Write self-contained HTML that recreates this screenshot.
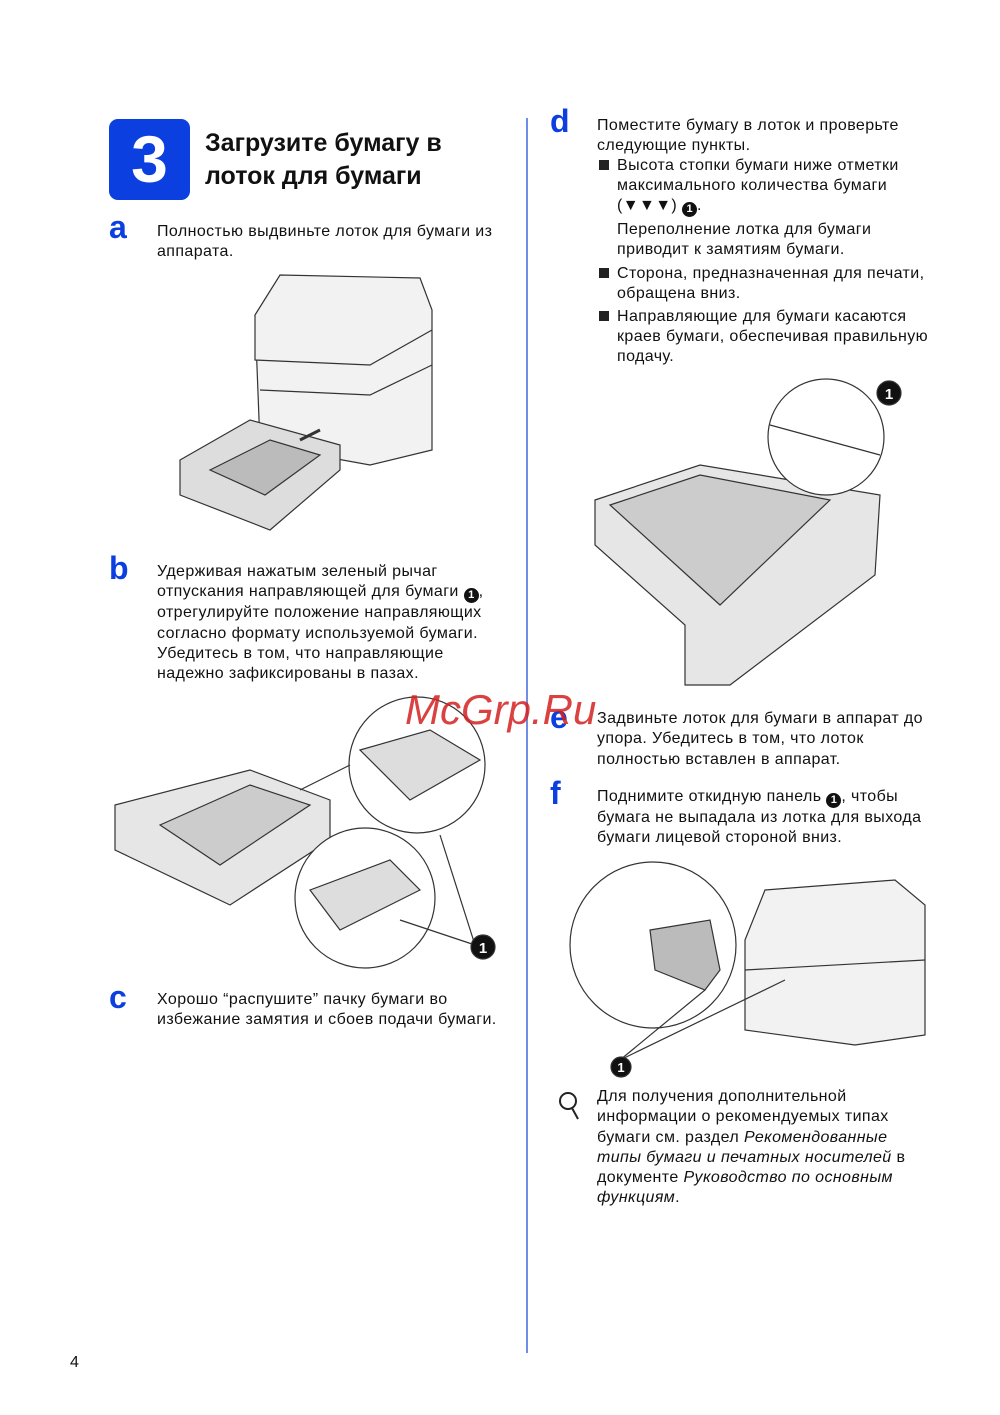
<!DOCTYPE html>
<html><head><meta charset="utf-8"><style>
body{margin:0;width:1000px;height:1415px;background:#fff;position:relative;overflow:hidden;font-family:"Liberation Sans",sans-serif;color:#111}
.t{position:absolute;font-size:16px;letter-spacing:.4px;line-height:20.3px;white-space:nowrap}
.L{position:absolute;color:#0b3fe0;font-weight:bold;font-size:32px;line-height:30px}
.n{display:inline-block;width:15px;height:15px;border-radius:50%;background:#111;color:#fff;font-size:11px;line-height:15px;text-align:center;font-weight:bold;vertical-align:-2px;letter-spacing:0}
svg{position:absolute}
.sq{display:inline-block;width:10px;height:10px;background:#222;margin-right:8px}
</style></head><body>
<div style="position:absolute;left:109px;top:119px;width:81px;height:81px;background:#0b3fe0;border-radius:9px;color:#fff;font-weight:bold;font-size:66px;line-height:81px;text-align:center">3</div>
<div style="position:absolute;left:205px;top:127px;font-weight:bold;font-size:25px;line-height:33px">Загрузите бумагу в<br>лоток для бумаги</div>
<div style="position:absolute;left:526px;top:118px;width:2px;height:1235px;background:#6f8fe6"></div>

<div class="L" style="left:109px;top:212px">a</div>
<div class="t" style="left:157px;top:222px">Полностью выдвиньте лоток для бумаги из<br>аппарата.</div>
<svg style="left:170px;top:270px" width="270" height="275" viewBox="0 0 270 275" fill="#f2f2f2" stroke="#333" stroke-width="1.2">
<path d="M85 45 L110 5 L250 8 L262 40 L262 180 L200 195 L90 175 Z"/>
<path d="M85 45 L85 90 L200 95 L262 60"/>
<path d="M90 120 L200 125 L262 95"/>
<path d="M10 190 L80 150 L170 175 L170 200 L100 260 L10 225 Z" fill="#ddd"/>
<path d="M40 200 L100 170 L150 185 L95 225 Z" fill="#bbb"/>
<path d="M130 170 L150 160" stroke-width="3"/>
</svg>

<div class="L" style="left:109px;top:553px">b</div>
<div class="t" style="left:157px;top:562px">Удерживая нажатым зеленый рычаг<br>отпускания направляющей для бумаги <span class="n">1</span>,<br>отрегулируйте положение направляющих<br>согласно формату используемой бумаги.<br>Убедитесь в том, что направляющие<br>надежно зафиксированы в пазах.</div>
<svg style="left:110px;top:690px" width="395" height="285" viewBox="0 0 395 285" fill="#f2f2f2" stroke="#333" stroke-width="1.2">
<path d="M5 115 L140 80 L220 110 L220 150 L120 215 L5 160 Z" fill="#e6e6e6"/>
<path d="M50 135 L140 95 L200 115 L110 175 Z" fill="#ccc"/>
<circle cx="307" cy="75" r="68" fill="#fff"/>
<path d="M250 60 L320 40 L370 70 L300 110 Z" fill="#ddd"/>
<circle cx="255" cy="208" r="70" fill="#fff"/>
<path d="M200 200 L280 170 L310 200 L230 240 Z" fill="#ddd"/>
<line x1="190" y1="100" x2="240" y2="75"/><line x1="330" y1="145" x2="365" y2="255"/><line x1="290" y1="230" x2="365" y2="255"/>
<circle cx="373" cy="257" r="12" fill="#111"/><text x="373" y="263" fill="#fff" stroke="none" font-size="15" font-weight="bold" text-anchor="middle">1</text>
</svg>

<div class="L" style="left:109px;top:982px">c</div>
<div class="t" style="left:157px;top:990px">Хорошо “распушите” пачку бумаги во<br>избежание замятия и сбоев подачи бумаги.</div>

<div class="L" style="left:550px;top:106px">d</div>
<div class="t" style="left:597px;top:116px">Поместите бумагу в лоток и проверьте<br>следующие пункты.</div>
<div class="t" style="left:599px;top:156px"><span class="sq"></span>Высота стопки бумаги ниже отметки</div>
<div class="t" style="left:617px;top:176px">максимального количества бумаги<br>(▼▼▼) <span class="n">1</span>.</div>
<div class="t" style="left:617px;top:220px">Переполнение лотка для бумаги<br>приводит к замятиям бумаги.</div>
<div class="t" style="left:599px;top:264px"><span class="sq"></span>Сторона, предназначенная для печати,</div>
<div class="t" style="left:617px;top:284px">обращена вниз.</div>
<div class="t" style="left:599px;top:307px"><span class="sq"></span>Направляющие для бумаги касаются</div>
<div class="t" style="left:617px;top:327px">краев бумаги, обеспечивая правильную<br>подачу.</div>
<svg style="left:590px;top:375px" width="320" height="320" viewBox="0 0 320 320" fill="#f2f2f2" stroke="#333" stroke-width="1.2">
<path d="M5 125 L110 90 L290 120 L285 200 L140 310 L95 310 L95 250 L5 170 Z" fill="#e6e6e6"/>
<path d="M20 130 L110 100 L240 125 L130 230 Z" fill="#ccc"/>
<circle cx="236" cy="62" r="58" fill="#fff"/>
<path d="M180 50 L290 80" />
<circle cx="299" cy="18" r="12" fill="#111"/><text x="299" y="24" fill="#fff" stroke="none" font-size="15" font-weight="bold" text-anchor="middle">1</text>
</svg>

<div class="L" style="left:550px;top:702px">e</div>
<div class="t" style="left:597px;top:709px">Задвиньте лоток для бумаги в аппарат до<br>упора. Убедитесь в том, что лоток<br>полностью вставлен в аппарат.</div>
<div class="L" style="left:550px;top:778px">f</div>
<div class="t" style="left:597px;top:787px">Поднимите откидную панель <span class="n">1</span>, чтобы<br>бумага не выпадала из лотка для выхода<br>бумаги лицевой стороной вниз.</div>
<svg style="left:565px;top:860px" width="365" height="220" viewBox="0 0 365 220" fill="#f2f2f2" stroke="#333" stroke-width="1.2">
<circle cx="88" cy="85" r="83" fill="#fff"/>
<path d="M85 70 L145 60 L155 110 L140 130 L90 110 Z" fill="#bbb"/>
<path d="M200 30 L330 20 L360 45 L360 175 L290 185 L180 170 L180 80 Z"/>
<line x1="180" y1="110" x2="360" y2="100"/>
<line x1="55" y1="200" x2="140" y2="130"/><line x1="55" y1="200" x2="220" y2="120"/>
<circle cx="56" cy="207" r="10" fill="#111"/><text x="56" y="212" fill="#fff" stroke="none" font-size="13" font-weight="bold" text-anchor="middle">1</text>
</svg>

<svg style="left:556px;top:1090px" width="28" height="32" viewBox="0 0 28 32" fill="none" stroke="#222" stroke-width="2"><circle cx="12" cy="11" r="8"/><path d="M16 18 L22 29"/></svg>
<div class="t" style="left:597px;top:1087px">Для получения дополнительной<br>информации о рекомендуемых типах<br>бумаги см. раздел <i>Рекомендованные</i><br><i>типы бумаги и печатных носителей</i> в<br>документе <i>Руководство по основным</i><br><i>функциям</i>.</div>

<div style="position:absolute;left:405px;top:686px;color:#d42020;font-size:42px;font-style:italic;opacity:.85">McGrp.Ru</div>
<div class="t" style="left:70px;top:1353px;font-size:16px">4</div>
</body></html>
